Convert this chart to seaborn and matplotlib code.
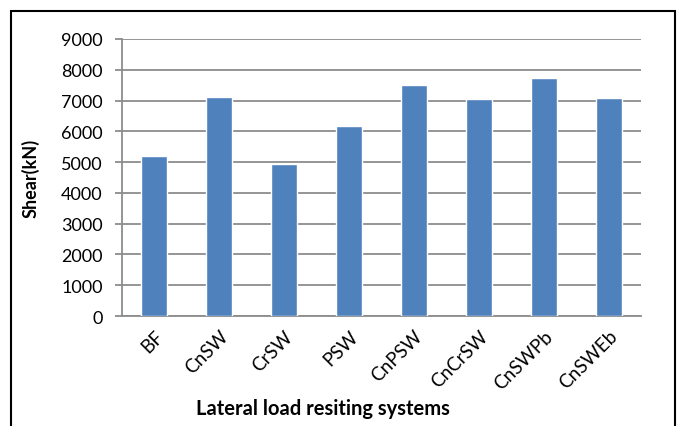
import matplotlib
matplotlib.use("Agg")
import matplotlib.pyplot as plt
import seaborn as sns
import pandas as pd
from matplotlib.patches import Rectangle

categories = ["BF", "CnSW", "CrSW", "PSW", "CnPSW", "CnCrSW", "CnSWPb", "CnSWEb"]
shear = [5200, 7130, 4950, 6160, 7510, 7050, 7730, 7090]
yticks = [0, 1000, 2000, 3000, 4000, 5000, 6000, 7000, 8000, 9000]

df = pd.DataFrame({"system": categories, "shear": shear})

sns.set_theme(style="white")
plt.rcParams["font.family"] = ["Lato", "DejaVu Sans"]

fig = plt.figure(figsize=(6.78, 4.27), dpi=100)
ax = fig.add_axes([122/678, 1-317/427, (641-122)/678, (317-40)/427])

sns.barplot(data=df, x="system", y="shear", color="#4F81BD", saturation=1,
            width=0.4, ax=ax, zorder=3)

ax.set_ylim(0, 9000)
ax.set_yticks(yticks)
ax.set_yticklabels([str(v) for v in yticks], fontsize=13, color="black")
ax.set_xlim(-0.5, len(categories) - 0.5)
ax.set_xticks(range(len(categories)))
ax.set_xticklabels(categories, rotation=45, ha="right", rotation_mode="anchor",
                   fontsize=13.5, color="black")
ax.yaxis.grid(True, color="#8c8c8c", linewidth=1.3, zorder=0)
ax.set_axisbelow(True)

for s in ["top", "right"]:
    ax.spines[s].set_visible(False)
ax.spines["left"].set_color("#8c8c8c")
ax.spines["left"].set_linewidth(1.3)
ax.spines["bottom"].set_color("#8c8c8c")
ax.spines["bottom"].set_linewidth(1.3)
ax.tick_params(axis="y", which="both", left=True, length=5, width=1.3, color="#8c8c8c", pad=9)
ax.tick_params(axis="x", which="both", bottom=False, pad=2)

ax.set_ylabel("Shear(kN)", fontsize=13, fontweight="bold", color="black")
ax.yaxis.set_label_coords(-(122-40)/519, 0.5)
ax.set_xlabel("Lateral load resiting systems", fontsize=14.5, fontweight="bold", color="black")
ax.xaxis.set_label_coords((323-122)/519, -(409-317)/277)
ax.xaxis.label.set_va("center")

fig.patches.append(Rectangle((11/678, -0.1), (675-11)/678, 1.1 - 12/427,
                             transform=fig.transFigure, fill=False,
                             edgecolor="black", linewidth=1.5))

fig.savefig("out.png", dpi=100)
